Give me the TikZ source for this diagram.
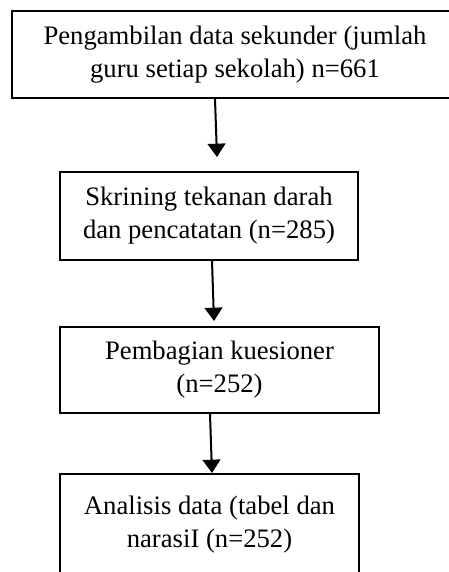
\documentclass[tikz,border=0pt]{standalone}
\usepackage{fontspec}
\setmainfont{Liberation Serif}
\usetikzlibrary{arrows.meta,calc}
\newlength\flowUnit
\setlength\flowUnit{0.45pt}

\begin{document}
\begin{tikzpicture}[x=\flowUnit,y=-\flowUnit]
\tikzset{
  flowBox/.style={draw, line width=0.9pt, rectangle, align=center, inner sep=2pt,
    font=\fontsize{12}{14.85}\selectfont},
  flowArrow/.style={line width=0.9pt, -{Triangle[width=8pt,length=6pt]}}
}
\clip (0,0) rectangle (449,572);
\node[flowBox, minimum width=446\flowUnit, minimum height=87\flowUnit] (dataSekunder) at (235,54.5)
  {Pengambilan data sekunder (jumlah\\guru setiap sekolah) n=661};
\node[flowBox, minimum width=298\flowUnit, minimum height=88\flowUnit] (skrining) at (209,216)
  {Skrining tekanan darah\\dan pencatatan (n=285)};
\node[flowBox, minimum width=319\flowUnit, minimum height=86\flowUnit] (kuesioner) at (219.5,370)
  {Pembagian kuesioner\\(n=252)};
\node[flowBox, minimum width=299\flowUnit, anchor=north, inner ysep=10pt, text depth=60pt] (analisis) at (209.5,473)
  {Analisis data (tabel dan\\narasiI (n=252)};
% connectors
\draw[flowArrow] ($(dataSekunder.south)+(-20,0)$) -- ($(skrining.north)+(8,-14)$);
\draw[flowArrow] ($(skrining.south)+(3,0)$) -- ($(kuesioner.north)+(-5.5,-5)$);
\draw[flowArrow] ($(kuesioner.south)+(-9.5,0)$) -- ($(analisis.north)+(2.5,0)$);
\end{tikzpicture}
\end{document}
